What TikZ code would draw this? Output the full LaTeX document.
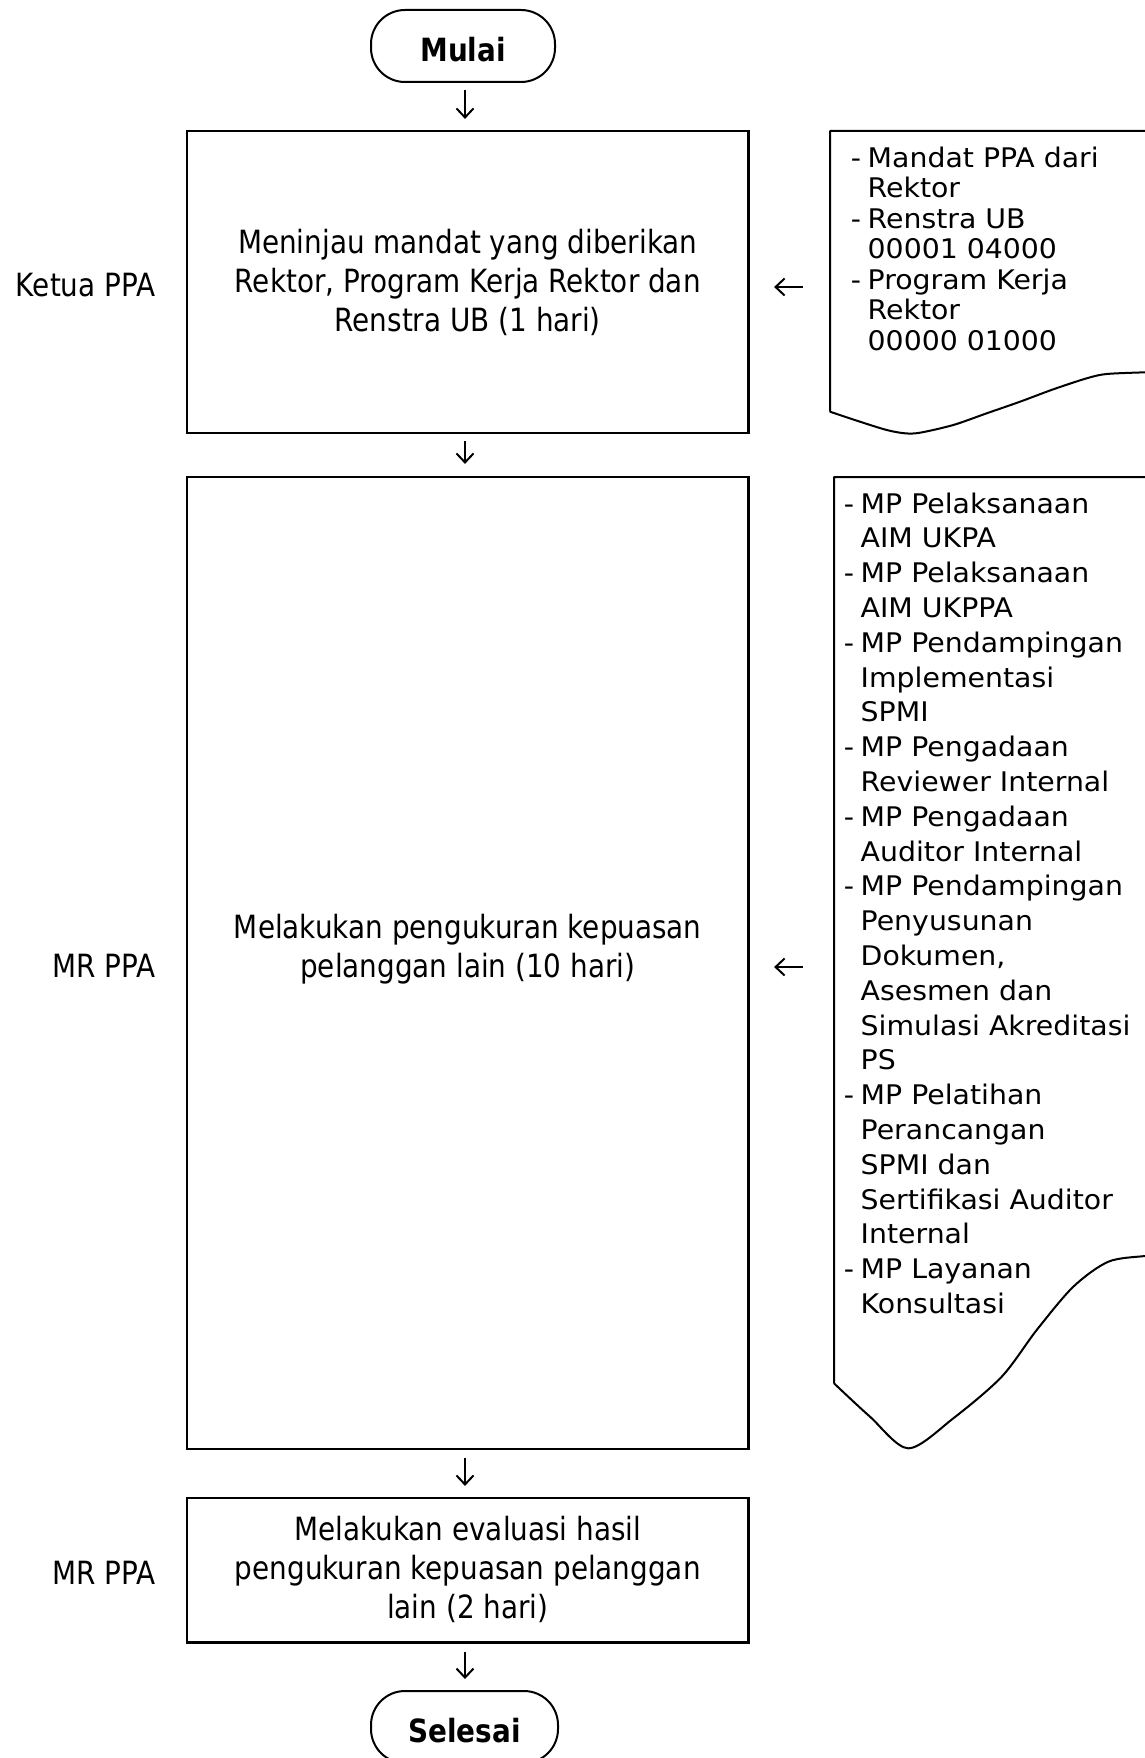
\documentclass[tikz,border=0pt]{standalone}
\usepackage{fontspec}
\setmainfont{DejaVu Sans}
\newfontfamily\boxfont{DejaVu Sans}[FakeStretch=0.87]
\newfontfamily\termfont{DejaVu Sans}[FakeStretch=0.87]
\newfontfamily\docfont{DejaVu Sans}[FakeStretch=1.05]
\usetikzlibrary{arrows.meta}
\newcommand{\dsh}{\makebox[16.8pt][l]{-}}
\newcommand{\ind}{\hspace*{16.8pt}}
\tikzset{
  procbox/.style={draw, line width=2.2pt, rectangle, inner sep=0pt, minimum width=561.5pt},
  term/.style={draw, line width=2pt, rounded corners=34pt, inner sep=0pt, minimum height=72pt,
    text height=30.5pt, text depth=0pt,
    font=\termfont\bfseries\fontsize{32}{38}\selectfont},
  boxtext/.style={inner sep=0pt, anchor=base, font=\boxfont\fontsize{32}{39}\selectfont},
  lbl/.style={inner sep=0pt, anchor=base east, font=\boxfont\fontsize{32}{39}\selectfont},
  doctext/.style={inner sep=0pt, anchor=base west},
  docline/.style={line width=2pt, line join=round},
  arr/.style={line width=2pt, -{Straight Barb[length=9pt,width=17pt]}}
}
\begin{document}
\begin{tikzpicture}[x=1pt,y=-1pt]
\fill[white] (0,0) rectangle (1145,1758);
\useasboundingbox (0,0) rectangle (1145,1758);

% terminals
\node[term, minimum width=184pt] (start) at (463,46) {Mulai};
\node[term, minimum width=187pt] (stop) at (464.5,1727) {Selesai};

% process boxes
\node[procbox, minimum height=302pt] (b1) at (467.75,282) {};
\node[procbox, minimum height=972pt] (b2) at (467.75,963) {};
\node[procbox, minimum height=144.5pt] (b3) at (467.75,1570.25) {};

\node[boxtext] (t1) at (467.75,253.5) {\begin{tabular}[t]{@{}c@{}}Meninjau mandat yang diberikan\\ Rektor, Program Kerja Rektor dan\\ Renstra UB (1 hari)\end{tabular}};
\node[boxtext] (t2) at (467.75,938.5) {\begin{tabular}[t]{@{}c@{}}Melakukan pengukuran kepuasan\\ pelanggan lain (10 hari)\end{tabular}};
\node[boxtext] (t3) at (467.75,1540) {\begin{tabular}[t]{@{}c@{}}Melakukan evaluasi hasil\\ pengukuran kepuasan pelanggan\\ lain (2 hari)\end{tabular}};

% role labels
\node[lbl] (r1) at (155.5,296) {Ketua PPA};
\node[lbl] (r2) at (155.5,977) {MR PPA};
\node[lbl] (r3) at (155.5,1584) {MR PPA};

% vertical flow arrows
\coordinate (ax) at (465,0);
\draw[arr, shorten <=7pt, shorten >=11pt] (start.south -| ax) -- (b1.north -| ax);
\draw[arr, shorten <=7pt, shorten >=12pt] (b1.south -| ax) -- (b2.north -| ax);
\draw[arr, shorten <=8pt, shorten >=11pt] (b2.south -| ax) -- (b3.north -| ax);
\draw[arr, shorten <=8pt, shorten >=11pt] (b3.south -| ax) -- (stop.north -| ax);

% document 1
\draw[docline] (1170,371.5) -- (1170,131) -- (830,131) -- (830,411.7)
  plot[smooth] coordinates {(830,411.7) (860,421.7) (886.7,430) (905,433.3) (920,432.7) (953.3,425) (986.7,413.3) (1020,401.7) (1053.3,389.3) (1086.7,378.3) (1106.7,374) (1145,372.3) (1170,371.5)};
\node[doctext] (d1) at (850.7,167) {\docfont\fontsize{27}{30.5}\selectfont
\begin{tabular}[t]{@{}l@{}}
\dsh Mandat PPA dari\\
\ind Rektor\\
\dsh Renstra UB\\
\ind 00001 04000\\
\dsh Program Kerja\\
\ind Rektor\\
\ind 00000 01000
\end{tabular}};

% document 2
\draw[docline] (1170,1254) -- (1170,477) -- (834,477) -- (834,1383.3)
  plot[smooth] coordinates {(834,1383.3) (870,1416.7) (908.3,1448.3) (953.3,1418.3) (1001.7,1376.7) (1036.7,1330) (1073.3,1286.7) (1108.3,1261.7) (1145,1256) (1170,1254)};
\node[doctext] (d2) at (843.7,513) {\docfont\fontsize{27}{34.8}\selectfont
\begin{tabular}[t]{@{}l@{}}
\dsh MP Pelaksanaan\\
\ind AIM UKPA\\
\dsh MP Pelaksanaan\\
\ind AIM UKPPA\\
\dsh MP Pendampingan\\
\ind Implementasi\\
\ind SPMI\\
\dsh MP Pengadaan\\
\ind Reviewer Internal\\
\dsh MP Pengadaan\\
\ind Auditor Internal\\
\dsh MP Pendampingan\\
\ind Penyusunan\\
\ind Dokumen,\\
\ind Asesmen dan\\
\ind Simulasi Akreditasi\\
\ind PS\\
\dsh MP Pelatihan\\
\ind Perancangan\\
\ind SPMI dan\\
\ind Sertifikasi Auditor\\
\ind Internal\\
\dsh MP Layanan\\
\ind Konsultasi
\end{tabular}};

% input arrows from documents
\coordinate (d1w) at (830,287);
\coordinate (d2w) at (834,967);
\draw[arr, shorten <=27pt, shorten >=24.5pt] (d1w) -- (d1w -| b1.east);
\draw[arr, shorten <=31pt, shorten >=24.5pt] (d2w) -- (d2w -| b2.east);
\end{tikzpicture}
\end{document}
